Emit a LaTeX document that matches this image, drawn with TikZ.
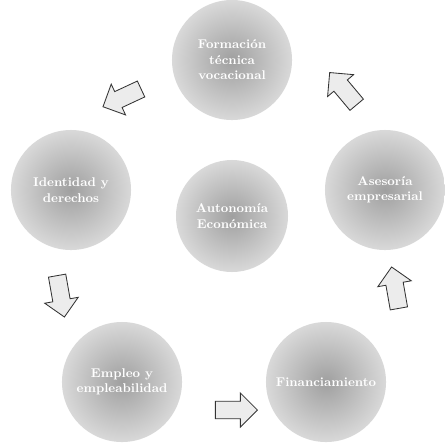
\documentclass[tikz,border=0pt]{standalone}
\usetikzlibrary{shapes.arrows}
\tikzset{
  ball/.style={circle, minimum size=3cm, inner sep=0pt, shading=radial,
    inner color=gray!75, outer color=gray!30, text=white, font=\small\bfseries,
    align=center},
  flecha/.style={single arrow, draw=black!80, semithick, fill=gray!15,
    minimum height=1.05cm, minimum width=0.85cm, single arrow head extend=0.12cm}
}
\begin{document}
\begin{tikzpicture}[x=0.025cm,y=-0.025cm]
\useasboundingbox (0,0) rectangle (445,442);
\node[ball] (formacion) at (232,60) {Formación\\técnica\\vocacional};
\node[ball] (identidad) at (71,190) {Identidad y\\derechos};
\node[ball, minimum size=2.8cm] (autonomia) at (232,216) {Autonomía\\Económica};
\node[ball] (asesoria) at (385,190) {Asesoría\\empresarial};
\node[ball] (empleo) at (122,382) {Empleo y\\empleabilidad};
\node[ball] (financ) at (326,382) {Financiamiento};
\node[flecha, rotate=205] (a1) at (126,96) {};
\node[flecha, rotate=130] (a2) at (346,92) {};
\node[flecha, rotate=-80] (a3) at (60,292) {};
\node[flecha, rotate=100] (a4) at (396,292) {};
\node[flecha] (a5) at (232,410) {};
\end{tikzpicture}
\end{document}
